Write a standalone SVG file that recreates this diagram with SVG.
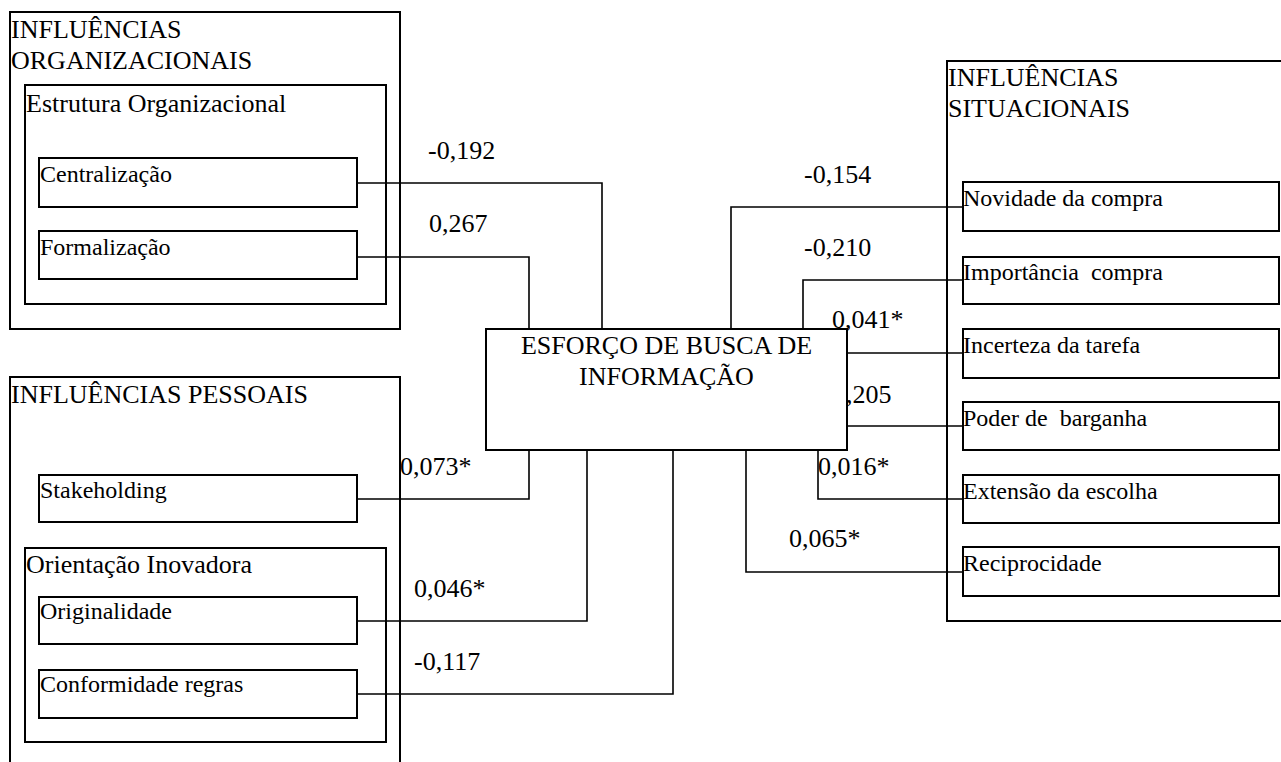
<svg xmlns="http://www.w3.org/2000/svg" width="1281" height="762" viewBox="0 0 1281 762">
<style>
.box{fill:none;stroke:#000;stroke-width:2}
.cbox{fill:#fff;stroke:#000;stroke-width:2}
.con{fill:none;stroke:#000;stroke-width:1.6}
text{font-family:'Liberation Serif','DejaVu Serif',serif;fill:#000}
.t{font-size:26px}
.l{font-size:24px}
</style>
<rect width="1281" height="762" fill="#fff"/>
<g font-family="Liberation Serif, DejaVu Serif, serif">
<g id="org">
<rect class="box" x="10" y="12" width="390" height="317"/>
<text class="t" x="11" y="38">INFLUÊNCIAS</text>
<text class="t" x="11" y="69">ORGANIZACIONAIS</text>
</g>
<g id="estrutura">
<rect class="box" x="25" y="85" width="361" height="219"/>
<text class="t" x="26" y="112">Estrutura Organizacional</text>
</g>
<g id="centralizacao">
<rect class="box" x="39" y="158" width="318" height="49"/>
<text class="l" x="40" y="182">Centralização</text>
</g>
<g id="formalizacao">
<rect class="box" x="39" y="231" width="318" height="48"/>
<text class="l" x="40" y="255">Formalização</text>
</g>
<g id="pessoais">
<rect class="box" x="10" y="377" width="390" height="420"/>
<text class="t" x="11" y="403">INFLUÊNCIAS PESSOAIS</text>
</g>
<g id="stakeholding">
<rect class="box" x="39" y="475" width="318" height="47"/>
<text class="l" x="40" y="498">Stakeholding</text>
</g>
<g id="orientacao">
<rect class="box" x="25" y="548" width="361" height="194"/>
<text class="t" x="26" y="573">Orientação Inovadora</text>
</g>
<g id="originalidade">
<rect class="box" x="39" y="597" width="318" height="47"/>
<text class="l" x="40" y="619">Originalidade</text>
</g>
<g id="conformidade">
<rect class="box" x="39" y="670" width="318" height="48"/>
<text class="l" x="40" y="692">Conformidade regras</text>
</g>
<g id="situacionais">
<rect class="box" x="947" y="61" width="360" height="560"/>
<text class="t" x="948" y="86">INFLUÊNCIAS</text>
<text class="t" x="948" y="117">SITUACIONAIS</text>
</g>
<g id="novidade">
<rect class="box" x="963" y="182" width="316" height="49"/>
<text class="l" x="963" y="206">Novidade da compra</text>
</g>
<g id="importancia">
<rect class="box" x="963" y="257" width="316" height="47"/>
<text class="l" x="963" y="280" xml:space="preserve">Importância  compra</text>
</g>
<g id="incerteza">
<rect class="box" x="963" y="329" width="316" height="49"/>
<text class="l" x="963" y="353">Incerteza da tarefa</text>
</g>
<g id="poder">
<rect class="box" x="963" y="402" width="316" height="48"/>
<text class="l" x="963" y="426" xml:space="preserve">Poder de  barganha</text>
</g>
<g id="extensao">
<rect class="box" x="963" y="475" width="316" height="48"/>
<text class="l" x="963" y="499">Extensão da escolha</text>
</g>
<g id="reciprocidade">
<rect class="box" x="963" y="547" width="316" height="49"/>
<text class="l" x="963" y="571">Reciprocidade</text>
</g>
<g id="connectors">
<path class="con" d="M357,183 H602 V329"/>
<path class="con" d="M357,257 H529 V329"/>
<path class="con" d="M357,499 H529 V450"/>
<path class="con" d="M357,621 H587 V450"/>
<path class="con" d="M357,694 H673 V450"/>
<path class="con" d="M963,207 H731 V329"/>
<path class="con" d="M963,280 H803 V329"/>
<path class="con" d="M963,353 H847"/>
<path class="con" d="M963,426 H847"/>
<path class="con" d="M963,499 H818 V450"/>
<path class="con" d="M963,572 H746 V450"/>
<text class="t" x="428" y="159">-0,192</text>
<text class="t" x="429" y="232">0,267</text>
<text class="t" x="400" y="475">0,073*</text>
<text class="t" x="414" y="597">0,046*</text>
<text class="t" x="414" y="670">-0,117</text>
<text class="t" x="804" y="183">-0,154</text>
<text class="t" x="804" y="256">-0,210</text>
<text class="t" x="832" y="328">0,041*</text>
<text class="t" x="846" y="403">,205</text>
<text class="t" x="818" y="475">0,016*</text>
<text class="t" x="789" y="547">0,065*</text>
</g>
<g id="esforco">
<rect class="cbox" x="486" y="329" width="361" height="121"/>
<text class="t" x="666.5" y="354" text-anchor="middle">ESFORÇO DE BUSCA DE</text>
<text class="t" x="666.5" y="385" text-anchor="middle">INFORMAÇÃO</text>
</g>
</g>
</svg>
